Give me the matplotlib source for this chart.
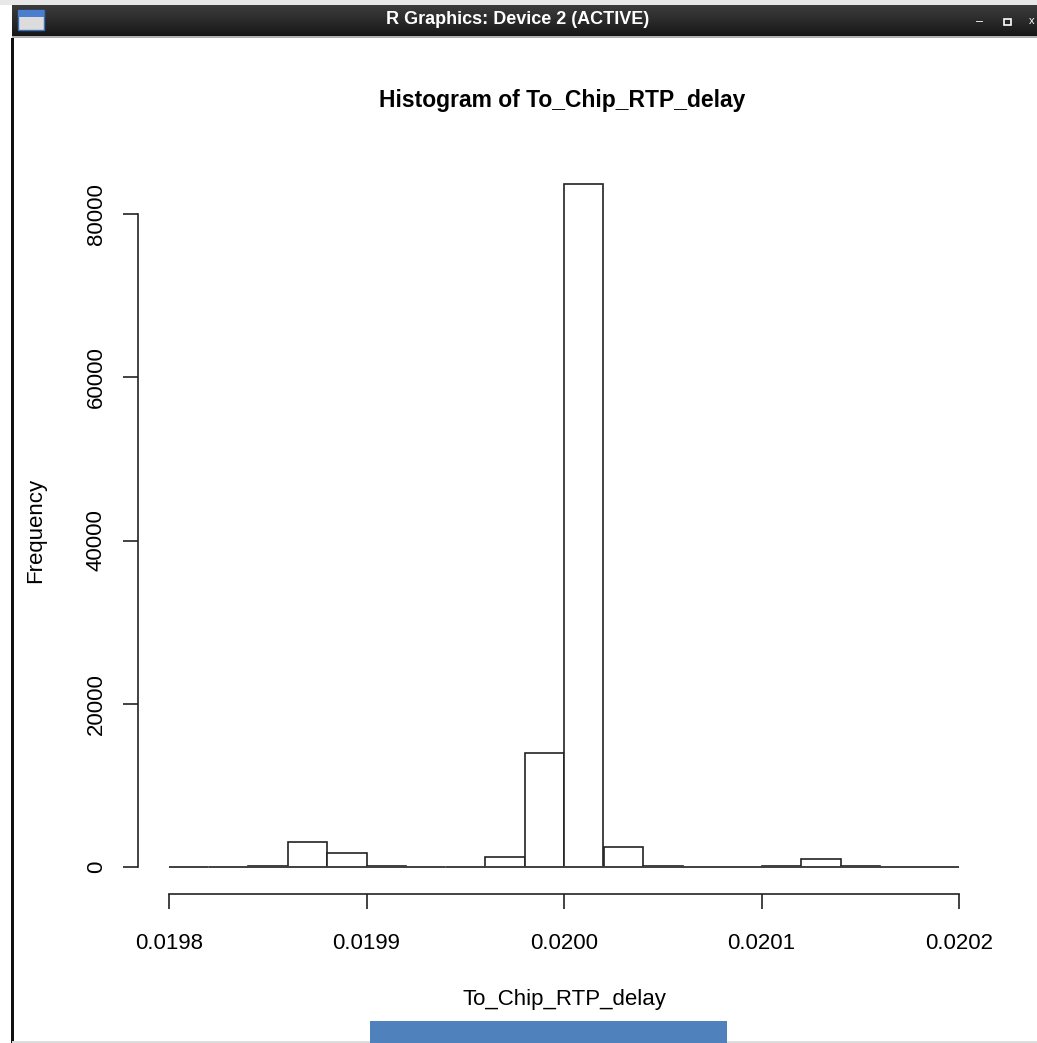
import matplotlib
matplotlib.use("Agg")
import matplotlib.pyplot as plt
from matplotlib.patches import Rectangle
import numpy as np

# ---- data ----
bin_edges = [0.01980, 0.01982, 0.01984, 0.01986, 0.01988, 0.01990, 0.01992,
             0.01994, 0.01996, 0.01998, 0.02000, 0.02002, 0.02004, 0.02006,
             0.02008, 0.02010, 0.02012, 0.02014, 0.02016, 0.02018, 0.02020]
counts = [0, 0, 120, 3070, 1700, 120, 0, 0, 1230, 13960, 83670, 2450, 120,
          0, 0, 120, 1040, 120, 0, 0]
x_ticks = [0.0198, 0.0199, 0.0200, 0.0201, 0.0202]
x_tick_labels = ["0.0198", "0.0199", "0.0200", "0.0201", "0.0202"]
y_ticks = [0, 20000, 40000, 60000, 80000]
y_tick_labels = ["0", "20000", "40000", "60000", "80000"]
title = "Histogram of To_Chip_RTP_delay"
xlabel = "To_Chip_RTP_delay"
ylabel = "Frequency"
window_title = "R Graphics: Device 2 (ACTIVE)"

W, H = 1037, 1043
DPI = 100
plt.rcParams['font.family'] = ['Liberation Sans', 'DejaVu Sans']
fig = plt.figure(figsize=(W / DPI, H / DPI), dpi=DPI)
fig.patch.set_facecolor("white")

def fx(px):
    return px / W

def fy(py):
    return 1 - py / H

# ---- window chrome ----
fig.patches.append(Rectangle((fx(0), fy(5)), 1, 5 / H, transform=fig.transFigure,
                             facecolor="#e8e8e8", edgecolor="none"))
grad = np.linspace(0, 1, 64).reshape(-1, 1)
ax_bar = fig.add_axes([fx(12), fy(37), 1 - fx(12), 32 / H])
ax_bar.imshow(grad, aspect="auto", cmap=matplotlib.colors.LinearSegmentedColormap.from_list(
    "tb", ["#3c3c3c", "#2a2a2a", "#151515"]), extent=[0, 1, 0, 1], origin="upper")
ax_bar.set_axis_off()
fig.patches.append(Rectangle((fx(12), fy(38)), 1, 2 / H, transform=fig.transFigure,
                             facecolor="#b0b0b0", edgecolor="none"))
# icon
fig.patches.append(Rectangle((fx(18), fy(30)), 26 / W, 20 / H, transform=fig.transFigure,
                             facecolor="#dcdcdc", edgecolor="#3a6fc0", linewidth=1))
fig.patches.append(Rectangle((fx(18), fy(17)), 26 / W, 7 / H, transform=fig.transFigure,
                             facecolor="#4a7fd0", edgecolor="none"))
fig.text(fx(518), fy(20), window_title, color="white", fontsize=13,
         fontweight="bold", ha="center", va="center", fontstretch="condensed")
fig.text(fx(980), fy(22), "\u2013", color="white", fontsize=9, ha="center", va="center")
fig.patches.append(Rectangle((fx(1004), fy(25)), 7 / W, 6 / H, transform=fig.transFigure,
                             facecolor="none", edgecolor="white", linewidth=1.2))
fig.text(fx(1029), fy(21), "x", color="white", fontsize=8, ha="left", va="center")
# left border
fig.patches.append(Rectangle((fx(11), fy(1043)), 3 / W, (1043 - 38) / H,
                             transform=fig.transFigure, facecolor="#111111",
                             edgecolor="none"))
# bottom line and blue box
fig.patches.append(Rectangle((fx(12), fy(1043)), 1, 2 / H, transform=fig.transFigure,
                             facecolor="#dddddd", edgecolor="none"))
fig.patches.append(Rectangle((fx(370), fy(1043)), 357 / W, 22 / H,
                             transform=fig.transFigure, facecolor="#4f81bd",
                             edgecolor="none"))

# ---- plot ----
x0_px, x1_px = 169, 959
y0_px = 867
px_per_count = 653 / 80000
ymax = 86000
ytop_px = y0_px - ymax * px_per_count
ax = fig.add_axes([fx(x0_px), fy(y0_px), (x1_px - x0_px) / W, (y0_px - ytop_px) / H])
ax.set_xlim(bin_edges[0], bin_edges[-1])
ax.set_ylim(0, ymax)
ax.patch.set_alpha(0)

widths = np.diff(bin_edges)
ax.hlines(0, bin_edges[0], bin_edges[-1], color="#444444", linewidth=1.2, clip_on=False)
ax.bar(bin_edges[:-1], counts, width=widths, align="edge", facecolor="white",
       edgecolor="#222222", linewidth=1.2, clip_on=False)

for s in ["top", "right"]:
    ax.spines[s].set_visible(False)
ax.spines["left"].set_position(("outward", 31 * 72 / DPI))
ax.spines["bottom"].set_position(("outward", 27 * 72 / DPI))
ax.spines["left"].set_bounds(0, 80000)
ax.spines["bottom"].set_bounds(0.0198, 0.0202)
for s in ["left", "bottom"]:
    ax.spines[s].set_linewidth(1.2)
    ax.spines[s].set_color("#222222")

ax.set_xticks(x_ticks)
ax.set_xticklabels(x_tick_labels, fontsize=16)
ax.set_yticks(y_ticks)
ax.set_yticklabels(y_tick_labels, fontsize=16, rotation=90, va="center")
ax.tick_params(axis="both", length=15 * 72 / DPI, width=1.2, color="#222222")
ax.tick_params(axis="x", pad=24 * 72 / DPI)
ax.tick_params(axis="y", pad=16 * 72 / DPI)

fig.text(fx(562), fy(100), title, fontsize=16.5, fontweight="bold",
         ha="center", va="center")
fig.text(fx(564), fy(1000), xlabel, fontsize=16, ha="center", va="center")
fig.text(fx(36), fy(530), ylabel, fontsize=16, ha="center", va="center", rotation=90)

fig.savefig("out.png", dpi=DPI)
